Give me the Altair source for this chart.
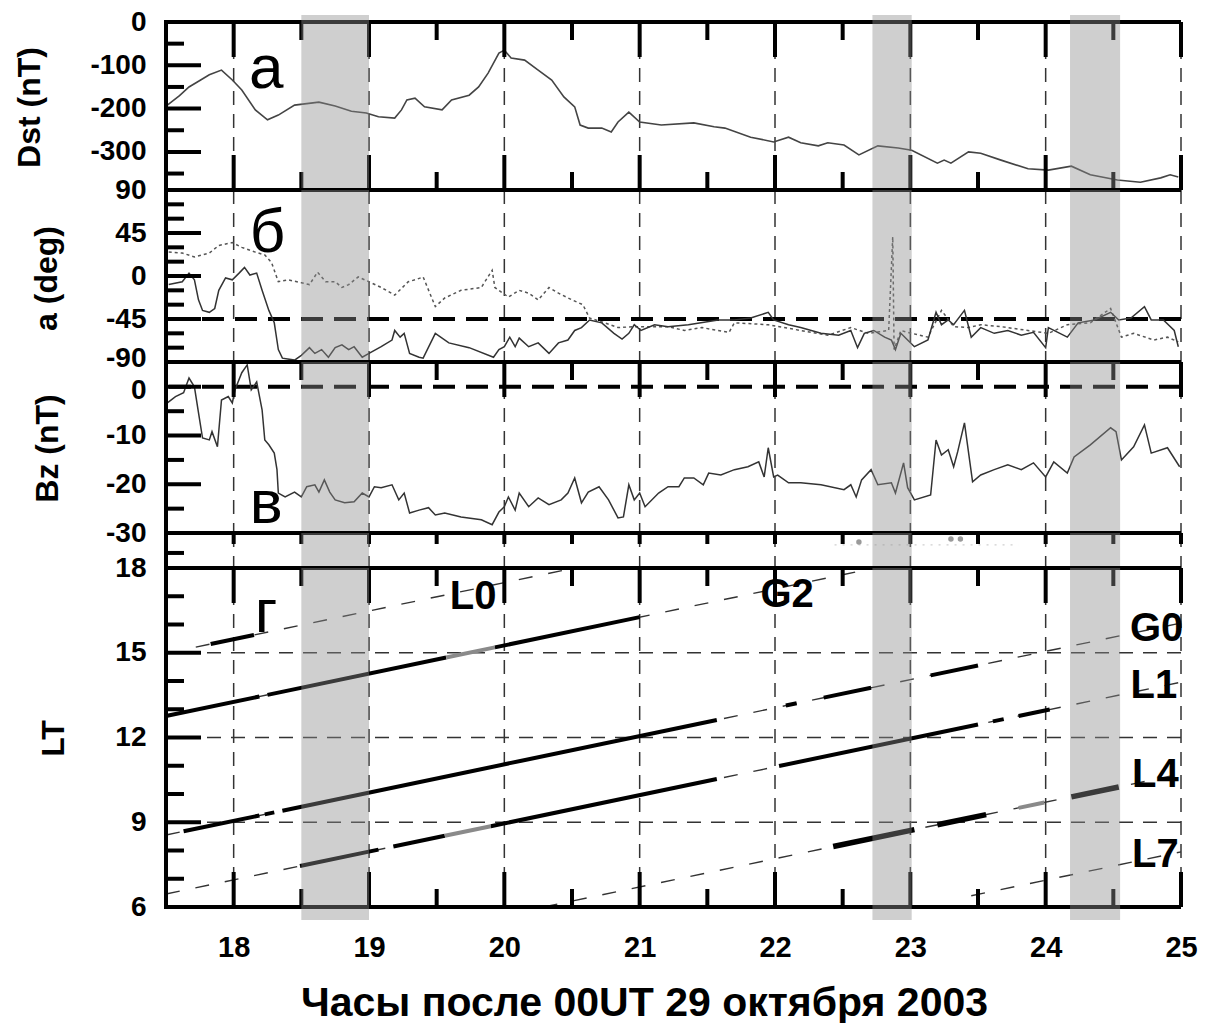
import altair as alt
import pandas as pd

# ---------------- data ----------------
dst_points = [(17.51,-192),(17.60,-170),(17.67,-150),(17.75,-135),(17.82,-122),(17.91,-111),(17.99,-134),
 (18.06,-157),(18.16,-203),(18.25,-226),(18.33,-215),(18.45,-192),(18.63,-185),(18.75,-194),(18.87,-206),
 (18.98,-210),(19.07,-219),(19.19,-222),(19.24,-203),(19.28,-180),(19.34,-176),(19.41,-196),(19.54,-203),
 (19.61,-180),(19.74,-169),(19.81,-150),(19.88,-118),(19.96,-72),(20.00,-65),(20.05,-83),(20.15,-88),
 (20.25,-111),(20.35,-134),(20.44,-173),(20.52,-196),(20.56,-238),(20.62,-245),(20.72,-245),(20.79,-254),
 (20.84,-231),(20.92,-208),(21.00,-231),(21.16,-238),(21.40,-233),(21.55,-242),(21.63,-245),(21.82,-266),
 (21.99,-277),(22.10,-266),(22.19,-279),(22.32,-286),(22.39,-279),(22.51,-284),(22.62,-307),(22.76,-286),
 (22.91,-291),(23.01,-296),(23.20,-326),(23.25,-319),(23.30,-326),(23.43,-300),(23.52,-303),(23.67,-319),
 (23.87,-339),(24.02,-342),(24.19,-333),(24.33,-353),(24.53,-365),(24.70,-370),(24.85,-360),(24.92,-353),
 (24.98,-358)]

a_solid_points = [(17.52,-9),(17.62,-6),(17.67,3),(17.71,-4),(17.74,-25),(17.77,-36),(17.82,-38),(17.86,-34),
 (17.89,-15),(17.94,-2),(17.99,-4),(18.04,3),(18.08,9),(18.12,1),(18.17,3),(18.21,-15),(18.26,-36),(18.30,-49),
 (18.33,-77),(18.36,-86),(18.45,-88),(18.50,-83),(18.56,-75),(18.60,-81),(18.65,-77),(18.70,-85),(18.75,-75),
 (18.80,-72),(18.85,-77),(18.89,-74),(18.95,-85),(19.00,-81),(19.09,-74),(19.17,-67),(19.19,-57),(19.23,-64),
 (19.26,-60),(19.30,-81),(19.37,-85),(19.40,-86),(19.49,-60),(19.59,-70),(19.74,-75),(19.92,-85),(19.96,-77),
 (20.00,-74),(20.04,-64),(20.08,-74),(20.11,-65),(20.18,-74),(20.25,-70),(20.33,-81),(20.40,-70),(20.47,-67),
 (20.52,-57),(20.57,-54),(20.63,-46),(20.72,-49),(20.81,-60),(20.87,-66),(20.92,-60),(20.96,-51),(21.01,-57),
 (21.11,-51),(21.21,-53),(21.36,-51),(21.58,-46),(21.70,-46),(21.82,-44),(21.95,-38),(21.99,-46),(22.10,-51),
 (22.19,-54),(22.34,-60),(22.47,-62),(22.56,-57),(22.61,-75),(22.66,-60),(22.73,-57),(22.81,-64),(22.86,-67),
 (22.89,-77),(22.93,-60),(22.98,-67),(23.03,-74),(23.13,-67),(23.19,-38),(23.23,-51),(23.28,-46),(23.32,-51),
 (23.40,-36),(23.45,-64),(23.52,-54),(23.62,-60),(23.72,-57),(23.82,-62),(23.91,-59),(24.00,-75),(24.02,-54),
 (24.16,-64),(24.24,-49),(24.36,-46),(24.48,-38),(24.54,-46),(24.63,-44),(24.73,-32),(24.78,-46),(24.87,-46),
 (24.95,-57),(24.98,-74)]

a_dotted_points = [(17.52,25),(17.62,24),(17.71,20),(17.82,24),(17.89,32),(17.99,35),(18.06,30),(18.16,25),
 (18.23,22),(18.28,14),(18.33,-6),(18.40,-4),(18.50,-7),(18.56,-9),(18.62,4),(18.68,-6),(18.75,-6),(18.80,-12),
 (18.85,-9),(18.92,-1),(19.00,-6),(19.09,-12),(19.19,-20),(19.29,-6),(19.34,-4),(19.40,-1),(19.49,-32),
 (19.56,-23),(19.68,-15),(19.83,-12),(19.91,6),(19.93,-12),(20.03,-22),(20.11,-15),(20.18,-18),(20.25,-25),
 (20.33,-12),(20.40,-18),(20.50,-25),(20.58,-30),(20.63,-44),(20.72,-48),(20.84,-54),(20.96,-53),(21.21,-53),
 (21.33,-57),(21.46,-54),(21.66,-59),(21.70,-49),(21.95,-51),(22.19,-57),(22.39,-62),(22.56,-54),(22.69,-60),
 (22.84,-57),(22.87,41),(22.88,-77),(22.93,-57),(23.01,-60),(23.13,-64),(23.23,-36),(23.32,-53),(23.43,-54),
 (23.52,-51),(23.67,-53),(23.87,-57),(24.02,-60),(24.16,-51),(24.33,-49),(24.48,-34),(24.56,-64),(24.65,-60),
 (24.80,-67),(24.90,-64),(24.98,-69)]

bz_points = [(17.51,-3.3),(17.57,-2.0),(17.63,-1.2),(17.67,1.8),(17.71,0.0),(17.74,-5.3),(17.77,-10.5),
 (17.82,-10.9),(17.84,-9.2),(17.88,-12.3),(17.91,-2.7),(17.96,-2.0),(17.99,-3.3),(18.01,-0.6),(18.06,2.9),
 (18.10,4.5),(18.13,-0.6),(18.17,1.0),(18.21,-4.7),(18.23,-10.9),(18.26,-11.9),(18.30,-13.6),(18.32,-17.0),
 (18.33,-21.8),(18.38,-22.6),(18.45,-21.6),(18.50,-22.6),(18.54,-20.5),(18.60,-20.1),(18.63,-21.6),
 (18.67,-19.1),(18.71,-21.6),(18.75,-23.2),(18.82,-23.8),(18.89,-23.6),(18.95,-21.8),(19.00,-22.6),
 (19.04,-20.5),(19.09,-20.7),(19.17,-20.1),(19.22,-23.2),(19.26,-21.8),(19.30,-25.9),(19.37,-25.3),
 (19.44,-24.8),(19.49,-26.3),(19.56,-25.9),(19.68,-26.7),(19.83,-27.3),(19.91,-28.3),(19.96,-25.7),
 (20.00,-24.6),(20.03,-22.6),(20.08,-25.3),(20.11,-21.8),(20.18,-24.6),(20.25,-22.8),(20.33,-24.2),
 (20.42,-23.2),(20.47,-21.8),(20.52,-18.7),(20.57,-23.8),(20.62,-21.6),(20.70,-20.5),(20.77,-23.2),
 (20.84,-26.9),(20.88,-26.7),(20.92,-20.1),(20.96,-23.2),(21.00,-21.8),(21.04,-24.6),(21.14,-21.8),
 (21.21,-20.5),(21.29,-20.5),(21.33,-18.7),(21.40,-18.7),(21.47,-20.1),(21.51,-17.7),(21.60,-18.1),
 (21.70,-17.0),(21.80,-16.4),(21.88,-15.4),(21.92,-18.5),(21.95,-12.5),(21.99,-18.5),(22.02,-18.1),
 (22.10,-19.7),(22.19,-19.7),(22.34,-20.1),(22.51,-21.1),(22.56,-20.1),(22.60,-22.6),(22.64,-19.1),
 (22.71,-17.0),(22.76,-20.1),(22.86,-19.7),(22.89,-21.8),(22.95,-15.6),(22.98,-20.7),(23.03,-23.2),
 (23.15,-22.2),(23.19,-10.9),(23.23,-14.0),(23.28,-12.9),(23.32,-16.4),(23.35,-13.3),(23.40,-7.4),
 (23.46,-19.5),(23.52,-18.1),(23.62,-17.0),(23.72,-16.0),(23.82,-17.0),(23.91,-15.6),(24.00,-18.5),
 (24.06,-15.4),(24.16,-17.7),(24.21,-14.4),(24.33,-11.9),(24.48,-8.4),(24.52,-9.2),(24.56,-15.0),
 (24.65,-12.3),(24.73,-7.8),(24.78,-13.6),(24.90,-12.5),(24.99,-16.4)]

band_start = [18.50, 22.72, 24.18]
band_end = [19.00, 23.01, 24.55]

# satellites: LT = UT + offset (hours)
sat_names = ["L0", "G2", "G0", "L1", "L4", "L7"]
sat_offsets = [-2.52, -4.74, -8.95, -11.04, -14.29, -17.05]
sat_span_start = [17.72, 17.50, 17.50, 17.50, 20.29, 23.45]
sat_span_end = [20.52, 22.74, 25.00, 25.00, 25.00, 25.00]
black_segments = [("L0", 17.83, 18.15), ("G2", 17.50, 18.19), ("G2", 18.25, 19.57), ("G2", 19.93, 21.00),
                  ("G0", 17.63, 18.19), ("G0", 18.23, 18.30), ("G0", 18.36, 21.57), ("G0", 22.08, 22.16),
                  ("G0", 22.36, 22.71), ("G0", 23.15, 23.50), ("L1", 18.49, 19.07), ("L1", 19.18, 19.56),
                  ("L1", 19.90, 21.57), ("L1", 22.03, 23.50), ("L1", 23.61, 23.69), ("L1", 23.80, 24.03)]
wide_segments = [("L4", 22.43, 23.03), ("L4", 23.20, 23.56), ("L4", 24.19, 24.54)]
grey_segments = [("G2", 19.57, 19.93), ("L1", 19.56, 19.90), ("L4", 23.80, 23.99)]
sat_label_ut = [19.77, 22.09, 24.82, 24.80, 24.81, 24.81]
sat_label_lt = [16.97, 17.04, 15.84, 13.82, 10.67, 7.84]

panel_letters = ["а", "б", "в", "г"]
letter_ut = [18.24, 18.25, 18.24, 18.24]
letter_val = [-152, 25, -27.9, 15.73]

strip_dot_ut = [22.62, 23.30, 23.37]
strip_dot_val = [0.74, 0.83, 0.83]
strip_trace_ut = [22.44, 23.80]
strip_trace_val = [0.66, 0.66]

grid_hours = [18, 19, 20, 21, 22, 23, 24, 25]
major_hours = [18, 19, 20, 21, 22, 23, 24, 25]
minor_hours = [18.5, 19.5, 20.5, 21.5, 22.5, 23.5, 24.5]

dst_labels = [0, -100, -200, -300]
dst_major = [-100, -200, -300]
dst_minor = [-50, -150, -250, -350]
a_labels = [90, 45, 0, -45, -90]
a_major = [45, 0, -45]
a_minor = [75, 60, 30, 15, -15, -30, -60, -75]
bz_labels = [0, -10, -20, -30]
bz_major = [0, -10, -20]
bz_minor = [-5, -15, -25]
lt_labels = [18, 15, 12, 9, 6]
lt_major = [15, 12, 9]
lt_minor = [17, 16, 14, 13, 11, 10, 8, 7]
lt_grid = [9, 12, 15]
strip_ticks = [0.43]

x_title = "Часы после 00UT 29 октября 2003"

# ---------------- styling / helpers ----------------
FONT = "Liberation Sans"
W = 1015
H_A, H_B, H_C, H_S, H_LT = 168, 172, 171, 35, 339
XS = alt.Scale(domain=[17.5, 25], nice=False, zero=False)
LBL = "datum.value < 0 ? '-' + abs(datum.value) : '' + datum.value"

bands_df = pd.DataFrame({"s": band_start, "e": band_end})


def yaxis(title, values, tx, ty, offset_test=None, offset_val=0):
    extra = {}
    if offset_test is not None:
        extra["labelOffset"] = {"condition": {"test": offset_test, "value": offset_val}, "value": 0}
    return alt.Axis(title=title, values=values, ticks=False, tickSize=0, domain=False, grid=False,
                    labelExpr=LBL, labelFont=FONT, labelFontSize=28, labelFontWeight="bold",
                    labelColor="black", labelPadding=20, labelOverlap=False,
                    titleFont=FONT, titleFontSize=32, titleFontWeight="bold", titleColor="black",
                    titleX=tx, titleY=ty, titleAngle=270, titleAlign="center", titleBaseline="middle",
                    **extra)


def X(field, xa):
    return alt.X(f"{field}:Q", scale=XS, axis=xa)


def vgrid(xa):
    return alt.Chart(pd.DataFrame({"x": grid_hours})).mark_rule(
        color="#333", strokeWidth=1.5, strokeDash=[14, 9]).encode(x=X("x", xa))


def xticks(vals, y0, y1, xa):
    return alt.Chart(pd.DataFrame({"x": vals})).mark_rule(color="black", strokeWidth=4).encode(
        x=X("x", xa), y=alt.value(y0), y2=alt.value(y1))


def yticks(vals, length, ys, ya):
    return alt.Chart(pd.DataFrame({"y": vals})).mark_rule(color="black", strokeWidth=4).encode(
        y=alt.Y("y:Q", scale=ys, axis=ya), x=alt.value(0), x2=alt.value(length))


def frame(h):
    d = pd.DataFrame({"a": [0]})
    left = alt.Chart(d).mark_rule(color="black", strokeWidth=4).encode(
        x=alt.value(0), y=alt.value(-2), y2=alt.value(h + 2))
    top = alt.Chart(d).mark_rule(color="black", strokeWidth=4).encode(
        x=alt.value(-2), x2=alt.value(W), y=alt.value(0))
    bottom = alt.Chart(d).mark_rule(color="black", strokeWidth=4).encode(
        x=alt.value(-2), x2=alt.value(W), y=alt.value(h))
    return [left, top, bottom]


def bands(h, xa, up=0, down=0):
    return alt.Chart(bands_df).mark_rect(color="#8c8c8c", opacity=0.42).encode(
        x=X("s", xa), x2="e:Q", y=alt.value(-up), y2=alt.value(h + down))


def letter(i, ys, ya, xa):
    df = pd.DataFrame({"x": [letter_ut[i]], "y": [letter_val[i]], "t": [panel_letters[i]]})
    return alt.Chart(df).mark_text(font=FONT, fontSize=62, color="black", align="center",
                                   baseline="alphabetic").encode(
        x=X("x", xa), y=alt.Y("y:Q", scale=ys, axis=ya), text="t:N")


def hdash(vals, ys, ya):
    return alt.Chart(pd.DataFrame({"y": vals})).mark_rule(
        color="black", strokeWidth=4, strokeDash=[22, 11]).encode(y=alt.Y("y:Q", scale=ys, axis=ya))


# ---------------- panel a : Dst ----------------
ys_a = alt.Scale(domain=[-388, 0], nice=False, zero=False)
ya_a = yaxis("Dst (nT)", dst_labels, -137, 85)
dst_df = pd.DataFrame(dst_points, columns=["ut", "v"])
pa = alt.layer(
    vgrid(None),
    alt.Chart(dst_df).mark_line(color="#444", strokeWidth=1.6).encode(
        x=X("ut", None), y=alt.Y("v:Q", scale=ys_a, axis=ya_a)),
    letter(0, ys_a, ya_a, None),
    xticks(major_hours, 0, 35, None), xticks(minor_hours, 0, 18, None),
    xticks(major_hours, H_A - 35, H_A, None), xticks(minor_hours, H_A - 18, H_A, None),
    yticks(dst_major, 35, ys_a, ya_a), yticks(dst_minor, 18, ys_a, ya_a),
    *frame(H_A),
    bands(H_A, None, up=7),
).properties(width=W, height=H_A)

# ---------------- panel b : angle ----------------
ys_b = alt.Scale(domain=[-90, 90], nice=False, zero=False)
ya_b = yaxis("a (deg)", a_labels, -120, 88, "datum.value == -90", -4)
asol_df = pd.DataFrame(a_solid_points, columns=["ut", "v"])
adot_df = pd.DataFrame(a_dotted_points, columns=["ut", "v"])
pb = alt.layer(
    vgrid(None),
    hdash([-45], ys_b, ya_b),
    alt.Chart(adot_df).mark_line(color="#555", strokeWidth=1.5, strokeDash=[3, 3]).encode(
        x=X("ut", None), y=alt.Y("v:Q", scale=ys_b, axis=ya_b)),
    alt.Chart(asol_df).mark_line(color="#333", strokeWidth=1.5).encode(
        x=X("ut", None), y=alt.Y("v:Q", scale=ys_b, axis=ya_b)),
    letter(1, ys_b, ya_b, None),
    yticks(a_major, 35, ys_b, ya_b), yticks(a_minor, 18, ys_b, ya_b),
    *frame(H_B),
    bands(H_B, None),
).properties(width=W, height=H_B)

# ---------------- panel c : Bz ----------------
ys_c = alt.Scale(domain=[-30, 5.1], nice=False, zero=False)
ya_c = yaxis("Bz (nT)", bz_labels, -119, 86, "datum.value == 0", 4)
bz_df = pd.DataFrame(bz_points, columns=["ut", "v"])
pc = alt.layer(
    vgrid(None),
    hdash([0], ys_c, ya_c),
    alt.Chart(bz_df).mark_line(color="#333", strokeWidth=1.5).encode(
        x=X("ut", None), y=alt.Y("v:Q", scale=ys_c, axis=ya_c)),
    letter(2, ys_c, ya_c, None),
    xticks(major_hours, 0, 35, None), xticks(minor_hours, 0, 18, None),
    yticks(bz_major, 35, ys_c, ya_c), yticks(bz_minor, 18, ys_c, ya_c),
    *frame(H_C),
    bands(H_C, None),
).properties(width=W, height=H_C)

# ---------------- thin strip ----------------
ys_s = alt.Scale(domain=[0, 1], nice=False, zero=False)
sdot_df = pd.DataFrame({"ut": strip_dot_ut, "v": strip_dot_val})
strace_df = pd.DataFrame({"ut": strip_trace_ut, "v": strip_trace_val})
ps = alt.layer(
    vgrid(None),
    alt.Chart(strace_df).mark_line(color="#cfcfcf", strokeWidth=1.2, strokeDash=[2, 6]).encode(
        x=X("ut", None), y=alt.Y("v:Q", scale=ys_s, axis=None)),
    alt.Chart(sdot_df).mark_point(filled=True, color="#9a9a9a", size=30, opacity=1).encode(
        x=X("ut", None), y=alt.Y("v:Q", scale=ys_s, axis=None)),
    xticks(major_hours + minor_hours, 0, 11, None),
    yticks(strip_ticks, 18, ys_s, None),
    *frame(H_S),
    bands(H_S, None),
).properties(width=W, height=H_S)

# ---------------- LT panel ----------------
xa_lt = alt.Axis(values=major_hours, format="d", ticks=False, tickSize=0, domain=False, grid=False,
                 labelFont=FONT, labelFontSize=29, labelFontWeight="bold", labelColor="black",
                 labelPadding=26, labelFlush=False, labelOverlap=False,
                 title=x_title, titleFont=FONT, titleFontSize=41, titleFontWeight="bold",
                 titleColor="black", titleX=478, titleY=108, titleAlign="center",
                 titleBaseline="alphabetic")
ys_lt = alt.Scale(domain=[6, 18], nice=False, zero=False)
ya_lt = yaxis("LT", lt_labels, -113, 170)

off = dict(zip(sat_names, sat_offsets))
thin_segments = [(n, a, b) for n, a, b in zip(sat_names, sat_span_start, sat_span_end)]


def seg_df(segs, tag):
    rows = []
    for i, (n, a, b) in enumerate(segs):
        rows.append({"seg": f"{tag}{i}", "ut": a, "lt": a + off[n]})
        rows.append({"seg": f"{tag}{i}", "ut": b, "lt": b + off[n]})
    return pd.DataFrame(rows)


def seg_layer(segs, tag, **style):
    return alt.Chart(seg_df(segs, tag)).mark_line(**style).encode(
        x=X("ut", xa_lt), y=alt.Y("lt:Q", scale=ys_lt, axis=ya_lt), detail="seg:N")


lab_df = pd.DataFrame({"ut": sat_label_ut, "lt": sat_label_lt, "t": sat_names})
plt_ = alt.layer(
    vgrid(xa_lt),
    alt.Chart(pd.DataFrame({"y": lt_grid})).mark_rule(color="#333", strokeWidth=1.5, strokeDash=[14, 10]).encode(
        y=alt.Y("y:Q", scale=ys_lt, axis=ya_lt)),
    seg_layer(thin_segments, "t", color="#333", strokeWidth=1.4, strokeDash=[14, 16]),
    seg_layer(black_segments, "b", color="black", strokeWidth=4),
    seg_layer(wide_segments, "w", color="black", strokeWidth=5.5),
    seg_layer(grey_segments, "g", color="#8a8a8a", strokeWidth=4),
    alt.Chart(lab_df).mark_text(font=FONT, fontSize=40, fontWeight="bold", color="black",
                                align="center", baseline="middle").encode(
        x=X("ut", xa_lt), y=alt.Y("lt:Q", scale=ys_lt, axis=ya_lt), text="t:N"),
    letter(3, ys_lt, ya_lt, xa_lt),
    xticks(major_hours, 0, 35, xa_lt), xticks(minor_hours, 0, 18, xa_lt),
    xticks(major_hours, H_LT - 35, H_LT, xa_lt), xticks(minor_hours, H_LT - 18, H_LT, xa_lt),
    yticks(lt_major, 35, ys_lt, ya_lt), yticks(lt_minor, 18, ys_lt, ya_lt),
    *frame(H_LT),
    bands(H_LT, xa_lt, down=13),
).properties(width=W, height=H_LT)

chart = alt.vconcat(pa, pb, pc, ps, plt_, spacing=0, bounds="flush").properties(
    padding={"left": 13, "top": 8, "right": 5, "bottom": 5}, background="white"
).configure_view(stroke=None)

chart.save("out.html", embed_options={"renderer": "svg", "actions": False})
